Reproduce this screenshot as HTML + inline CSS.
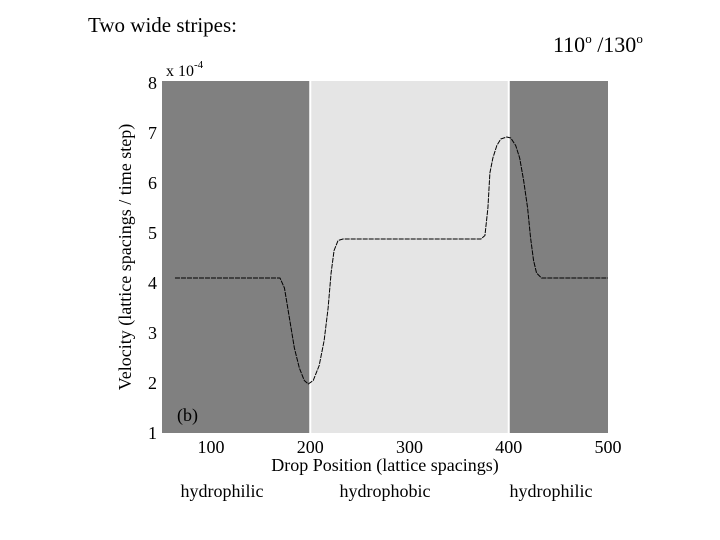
<!DOCTYPE html>
<html><head><meta charset="utf-8"><style>
body{margin:0;background:#fff;}
svg{display:block;font-family:"Liberation Serif",serif;}
</style></head><body>
<svg id="c" width="720" height="540">
<text x="88" y="32" font-size="21">Two wide stripes:</text>
<text x="553" y="52" font-size="22">110<tspan font-size="13" dy="-9">o</tspan><tspan dy="9"> /130</tspan><tspan font-size="13" dy="-9">o</tspan></text>
<g id="plot"></g>
<text x="166" y="76" font-size="16">x 10<tspan font-size="11" dy="-8">-4</tspan></text>
<text transform="translate(131,257) rotate(-90)" text-anchor="middle" font-size="18">Velocity (lattice spacings / time step)</text>
<text x="385" y="471" text-anchor="middle" font-size="18">Drop Position (lattice spacings)</text>
<text x="177" y="421" font-size="18">(b)</text>
<text x="222" y="497" text-anchor="middle" font-size="18">hydrophilic</text>
<text x="385" y="497" text-anchor="middle" font-size="18">hydrophobic</text>
<text x="551" y="497" text-anchor="middle" font-size="18">hydrophilic</text>
</svg>
<script>
const xTicks=[100,200,300,400,500];
const yTicks=[1,2,3,4,5,6,7,8];
const stripeStarts=[50,200,400];
const stripeEnds=[200,400,500];
const stripeTypes=["hydrophilic","hydrophobic","hydrophilic"];
const posX=[63.7,120,169.5,174,179,184,189,194,198,203,209,214,218,221,224,228,233,300,372,376,379,381,384,388,392,398,402,407,411,415,419,422,425,428,433,500];
const velY=[4.1,4.1,4.1,3.9,3.3,2.7,2.3,2.05,1.98,2.05,2.35,2.85,3.5,4.2,4.65,4.85,4.88,4.88,4.88,4.95,5.5,6.2,6.5,6.75,6.88,6.92,6.9,6.75,6.5,6.05,5.5,4.9,4.45,4.2,4.1,4.1];
const X0=162,X1=608,Y0=433,Y1=83;
const xs=v=>211+(v-100)*0.9925;
const ys=v=>433-(v-1)*50;
const NS="http://www.w3.org/2000/svg";
const g=document.getElementById('plot');
function mk(t,a){const e=document.createElementNS(NS,t);for(const k in a)e.setAttribute(k,a[k]);g.appendChild(e);return e;}
stripeStarts.forEach((s,i)=>{
 const r=mk('rect',{x:Math.max(X0,xs(s)),y:Y1-2,width:Math.min(X1,xs(stripeEnds[i]))-Math.max(X0,xs(s)),height:Y0-Y1+2,fill:stripeTypes[i]==="hydrophobic"?"#e5e5e5":"#808080"});
 
 
});
[200,400].forEach(v=>{const l=mk('line',{x1:xs(v),x2:xs(v),y1:Y1-2,y2:Y0,stroke:"#fff","stroke-width":2});
 
 });
xTicks.forEach(v=>{const t=mk('text',{x:xs(v),y:453,"text-anchor":"middle","font-size":18});t.textContent=v;
 
 });
yTicks.forEach(v=>{const t=mk('text',{x:157,y:ys(v)+6,"text-anchor":"end","font-size":18});t.textContent=v;
 
 });
const p=mk('polyline',{points:posX.map((v,i)=>xs(v)+","+ys(velY[i])).join(" "),fill:"none",stroke:"#000","stroke-width":1,"stroke-dasharray":"5 1","stroke-linejoin":"round"});


</script>
</body></html>
